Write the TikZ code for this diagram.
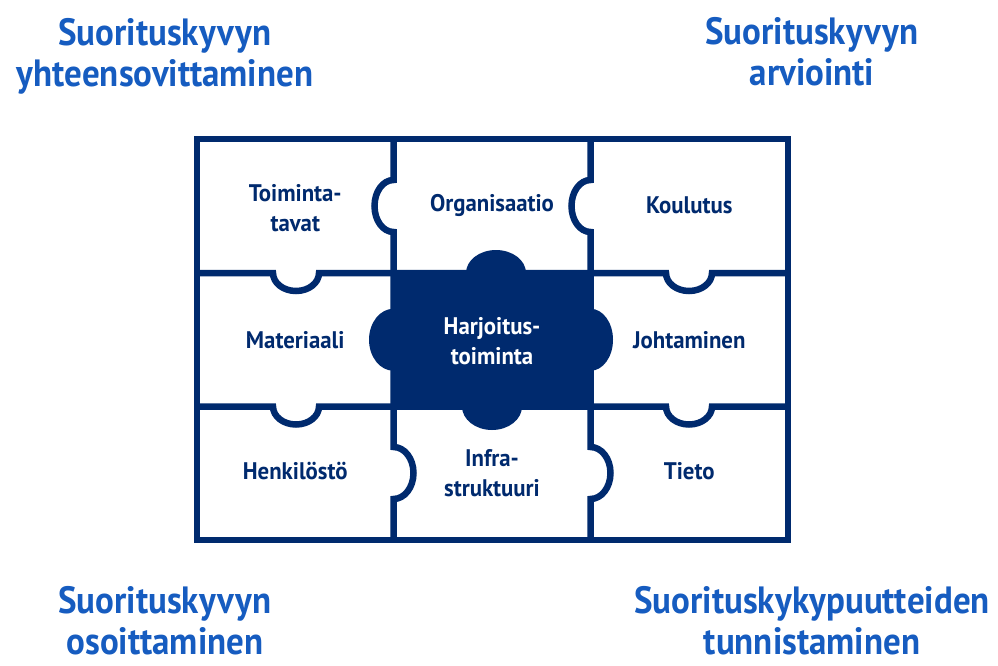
\documentclass[tikz,border=0pt]{standalone}
\usepackage{fontspec}
\setmainfont{PT Sans}
\newfontfamily\titlefont{PT Sans}[FakeStretch=0.92]
\newfontfamily\cellfont{PT Sans}[FakeStretch=0.95]
\definecolor{navy}{RGB}{0,42,110}
\definecolor{titleblue}{RGB}{22,92,192}
\begin{document}
\begin{tikzpicture}[x=1pt,y=-1pt,
  grid/.style={draw=navy,line width=6.5pt},
  titletext/.style={text=titleblue,font=\titlefont\fontsize{38}{41}\selectfont\bfseries,align=center,inner sep=0pt},
  celltext/.style={text=navy,font=\cellfont\fontsize{24}{30}\selectfont\bfseries,align=center,inner sep=0pt},
  darktext/.style={celltext,text=white}]
\useasboundingbox (0,0) rectangle (998,666);
\fill[white] (0,0) rectangle (998,666);
% grid
\draw[grid] (197,139) rectangle (788,540);
\draw[grid] (393.5,139) -- (393.5,180) arc[start angle=270,end angle=90,x radius=19,y radius=26]
  -- (393.5,447) arc[start angle=270,end angle=450,x radius=20,y radius=26] -- (393.5,540);
\draw[grid] (590.5,139) -- (590.5,180) arc[start angle=270,end angle=90,x radius=19,y radius=26]
  -- (590.5,447) arc[start angle=270,end angle=450,x radius=20,y radius=26] -- (590.5,540);
\draw[grid] (197,273) -- (273,273) arc[start angle=180,end angle=0,x radius=23,y radius=18]
  -- (666,273) arc[start angle=180,end angle=0,x radius=23,y radius=18] -- (788,273);
\draw[grid] (197,406.5) -- (273,406.5) arc[start angle=180,end angle=0,x radius=23,y radius=18]
  -- (666,406.5) arc[start angle=180,end angle=0,x radius=23,y radius=18] -- (788,406.5);
% centre piece
\fill[navy] (393.5,273) rectangle (590.5,406.5);
\fill[navy] (496,273) ellipse[x radius=30,y radius=23];
\fill[navy] (492,406.5) ellipse[x radius=30,y radius=23.5];
\fill[navy] (393.5,339.75) ellipse[x radius=24.5,y radius=31];
\fill[navy] (590.5,339.75) ellipse[x radius=22.5,y radius=31];
% cell labels
\node[celltext] (toim) at (295.25,208) {Toiminta-\\tavat};
\node[celltext] (org) at (492,205.5) {Organisaatio};
\node[celltext] (kou) at (689.25,205.5) {Koulutus};
\node[celltext] (mat) at (295.25,339.75) {Materiaali};
\node[darktext] (harj) at (492,341) {Harjoitus-\\toiminta};
\node[celltext] (joh) at (689.25,339.75) {Johtaminen};
\node[celltext] (hen) at (295.25,471) {Henkilöstö};
\node[celltext] (inf) at (492,473) {Infra-\\struktuuri};
\node[celltext] (tie) at (689.25,471) {Tieto};
% titles
\node[titletext] (tl) at (165,56.3) {Suorituskyvyn\\yhteensovittaminen};
\node[titletext] (tr) at (812,51.8) {Suorituskyvyn\\arviointi};
\node[titletext] (bl) at (165,621) {Suorituskyvyn\\osoittaminen};
\node[titletext] (br) at (812,621) {Suorituskykypuutteiden\\tunnistaminen};
\end{tikzpicture}
\end{document}
